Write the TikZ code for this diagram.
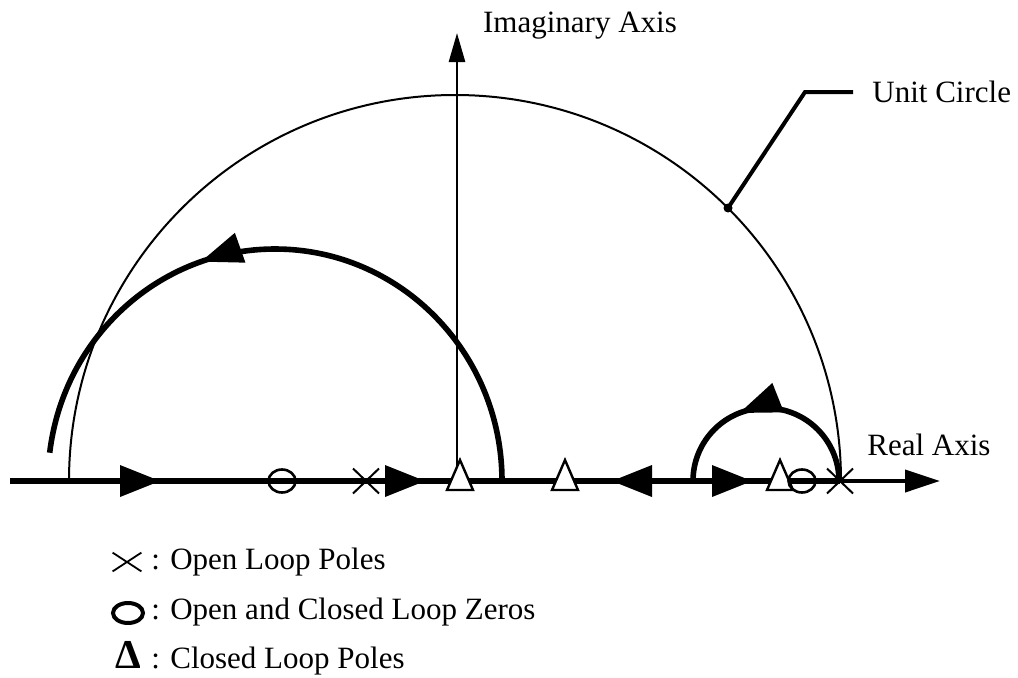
\documentclass[tikz,border=0pt]{standalone}
\usepackage{fontspec}
\setmainfont{Liberation Serif}
\usetikzlibrary{arrows.meta, shapes.geometric, shapes.misc, decorations.markings, positioning}

\begin{document}
\begin{tikzpicture}[
        x=0.5pt, y=0.5pt,
        every node/.style={font=\fontsize{15.5}{18}\selectfont, inner sep=0pt},
        axis/.style={draw=black, line width=1.3pt},
        unitcirc/.style={draw=black, line width=1pt},
        locus/.style={draw=black, line width=2.8pt},
        pole/.style={cross out, draw=black, line width=1pt, minimum width=12pt, minimum height=11.5pt},
        zero/.style={ellipse, draw=black, line width=1.3pt, minimum width=13.5pt, minimum height=11.5pt},
        headmark/.style={postaction={decorate, decoration={markings, mark=at position #1 with {\arrow{Triangle[length=21pt, width=15pt]}}}}},
        pics/lochead/.style={code={\fill (0,0) -- (-40,16) -- (-40,-16) -- cycle;}},
        pics/clpole/.style={code={\draw[fill=white, line width=1.2pt] (-13,-9) -- (13,-9) -- (0,21) -- cycle;}}
    ]
        \useasboundingbox (0,0) rectangle (1018,677);

        % axes
        \coordinate (O) at (457,196);
        \coordinate (reL) at (10,196);
        \coordinate (reP) at (840,196);
        \coordinate (reR) at (940,196);
        \coordinate (imT) at (457,644);
        \draw[unitcirc] (841,196) arc[start angle=0, end angle=180, radius=386];
        \draw[axis, -{Triangle[length=14.5pt, width=8pt]}] (O) -- (imT);
        \draw[locus] (reL) -- (reP);
        \draw[axis, line width=2pt, -{Triangle[length=17.5pt, width=11pt]}] (reP) -- (reR);

        % root loci
        \draw[locus, headmark=0.63] (502,196) arc[start angle=0, end angle=173, x radius=227, y radius=232];
        \draw[locus, headmark=0.62] (839,196) arc[start angle=0, end angle=180, radius=73];
        \pic at (160,196) {lochead};
        \pic at (425,196) {lochead};
        \pic[rotate=180] at (612,196) {lochead};
        \pic at (752,196) {lochead};

        % poles and zeros
        \node[zero] (z1) at (282,196) {};
        \node[pole] (p1) at (366,196) {};
        \pic (c1) at (460,196) {clpole};
        \pic (c2) at (565,196) {clpole};
        \pic (c3) at (780,196) {clpole};
        \node[zero] (z2) at (802,196) {};
        \node[pole] (p2) at (840,196) {};

        % unit circle label
        \coordinate (ucdot) at (728,469);
        \coordinate (ucbend) at (805,585);
        \coordinate (ucend) at (853,585);
        \fill (ucdot) circle[radius=4.5];
        \draw[line width=2pt] (ucdot) -- (ucbend) -- (ucend);
        \node[anchor=base west] (uclabel) at (872,575) {Unit Circle};
        \node[anchor=base] (imlabel) at (580,645) {Imaginary Axis};
        \node[anchor=base west] (relabel) at (867,222) {Real Axis};

        % legend
        \node[pole, line width=0.9pt, minimum width=13.5pt, minimum height=8.5pt] (lgpole) at (127,115) {};
        \node[zero, line width=2pt, minimum width=15pt, minimum height=10pt] (lgzero) at (128,64) {};
        \node[anchor=base, font=\fontsize{20.5}{21}\selectfont\bfseries] (lgclp) at (128,9) {Δ};
        \node[anchor=base west] (lgt1) at (151,108) {: Open Loop Poles};
        \node[anchor=base west] (lgt2) at (151,58) {: Open and Closed Loop Zeros};
        \node[anchor=base west] (lgt3) at (151,9) {: Closed Loop Poles};
    \end{tikzpicture}
\end{document}
